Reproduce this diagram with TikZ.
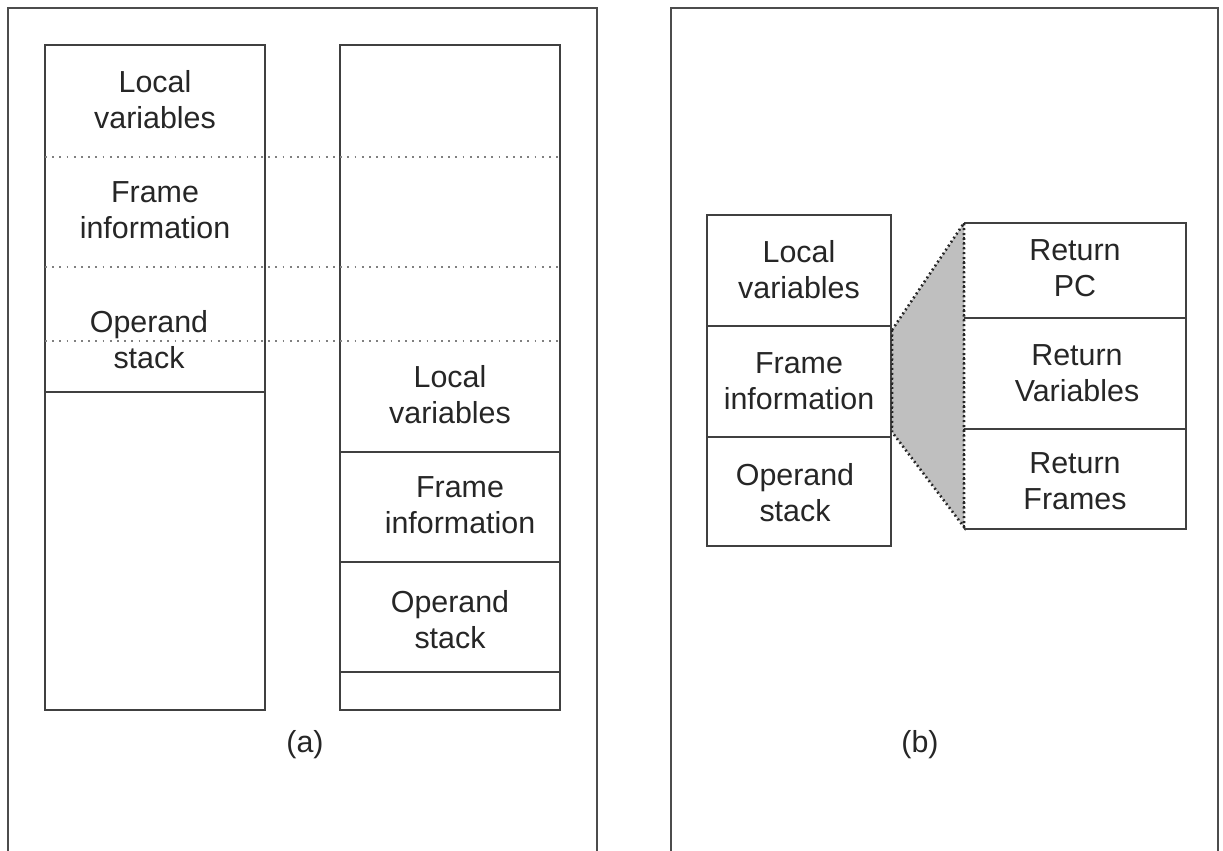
\documentclass[tikz,border=0pt]{standalone}
\usepackage{fontspec}
\setmainfont{Liberation Sans}
\begin{document}
\begin{tikzpicture}[x=0.5pt,y=-0.5pt,
  edge/.style={draw=black!75, line width=0.9pt},
  frameline/.style={draw=black!70, line width=1.1pt},
  guide/.style={draw=black!50, line width=0.75pt, dash pattern=on 0.9pt off 2.7pt},
  zoomcone/.style={fill=black!25, draw=black!85, line width=1.3pt, dash pattern=on 0.9pt off 1.5pt},
  lbl/.style={align=center, font=\fontsize{15.2}{18}\selectfont, text=black!85, inner sep=0pt},
  panelcap/.style={font=\fontsize{15.2}{18}\selectfont, text=black!85, inner sep=0pt}]
\useasboundingbox (0,0) rectangle (1223,851);
\fill[white] (0,0) rectangle (1223,851);

% panel frames, open at the bottom
\draw[frameline] (8,851) -- (8,8) -- (597,8) -- (597,851);
\draw[frameline] (671,851) -- (671,8) -- (1218,8) -- (1218,851);

% ---------- panel (a) ----------
% left stack: overlapping regions
\draw[edge] (45,45) rectangle (265,710);
\draw[edge] (45,392) -- (265,392);
% right stack: separated regions
\draw[edge] (340,45) rectangle (560,710);
\draw[edge] (340,452) -- (560,452);
\draw[edge] (340,562) -- (560,562);
\draw[edge] (340,672) -- (560,672);
% guide lines across both stacks
\foreach \yy in {157,267,341}
  \draw[guide] (45,\yy) -- (560,\yy);

\node[lbl] (alv) at (155,100) {Local\\variables};
\node[lbl] (afi) at (155,210) {Frame\\information};
\node[lbl] (aos) at (149,340) {Operand\\stack};
\node[lbl] (blv) at (450,395) {Local\\variables};
\node[lbl] (bfi) at (460,505) {Frame\\information};
\node[lbl] (bos) at (450,620) {Operand\\stack};
\node[panelcap] (capa) at (305,745) {(a)};

% ---------- panel (b) ----------
% expansion of the frame information block
\path[zoomcone] (892,330) -- (964,223) -- (964,527) -- (892,432) -- cycle;

\draw[edge] (707,215) rectangle (891,546);
\draw[edge] (707,326) -- (891,326);
\draw[edge] (707,437) -- (891,437);
\draw[edge] (964,223) -- (1186,223) -- (1186,529) -- (964,529);
\draw[edge] (964,318) -- (1186,318);
\draw[edge] (964,429) -- (1186,429);
% redraw the shared dotted edges on top
\draw[zoomcone, fill=none] (892,330) -- (892,432);
\draw[zoomcone, fill=none] (964,223) -- (964,527);

\node[lbl] (clv) at (799,270) {Local\\variables};
\node[lbl] (cfi) at (799,381) {Frame\\information};
\node[lbl] (cos) at (795,493) {Operand\\stack};
\node[lbl] (rpc) at (1075,268) {Return\\PC};
\node[lbl] (rvar) at (1077,373) {Return\\Variables};
\node[lbl] (rfr) at (1075,481) {Return\\Frames};
\node[panelcap] (capb) at (920,745) {(b)};
\end{tikzpicture}
\end{document}
